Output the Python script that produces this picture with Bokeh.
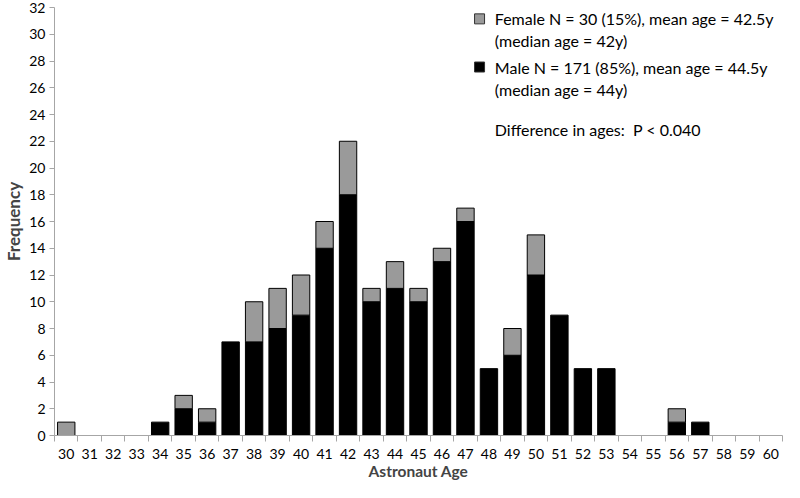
from bokeh.plotting import figure
from bokeh.models import ColumnDataSource, FixedTicker
from bokeh.core.properties import value
from bokeh.embed import file_html
from bokeh.resources import INLINE

ages = list(range(30, 61))
male = [0, 0, 0, 0, 1, 2, 1, 7, 7, 8, 9, 14, 18, 10, 11, 10, 13, 16, 5, 6, 12, 9, 5, 5, 0, 0, 1, 1, 0, 0, 0]
female = [1, 0, 0, 0, 0, 1, 1, 0, 3, 3, 3, 2, 4, 1, 2, 1, 1, 1, 0, 2, 3, 0, 0, 0, 0, 0, 1, 0, 0, 0, 0]
y_ticks = list(range(0, 33, 2))

legend_lines = ["Female N = 30 (15%), mean age = 42.5y", "(median age = 42y)",
                "Male N = 171 (85%), mean age = 44.5y", "(median age = 44y)",
                "Difference in ages:\u00a0\u00a0P < 0.040"]
legend_x = [48.25, 48.25, 48.25, 48.25, 48.25]
legend_y = [31.15, 29.5, 27.55, 25.9, 22.9]
swatch_x = [47.6, 47.6]
swatch_y = [31.15, 27.55]
swatch_col = ["#9a9a9a", "#000000"]

FONT = "Lato"

p = figure(width=784, height=482, output_backend="svg", toolbar_location=None,
           x_range=(29.5, 60.5), y_range=(0, 32),
           min_border_left=44, min_border_right=2, min_border_top=7, min_border_bottom=30)
p.outline_line_color = None
p.xgrid.visible = False
p.ygrid.visible = False

m_src = ColumnDataSource(dict(x=[a for a, m in zip(ages, male) if m > 0],
                              top=[m for m in male if m > 0]))
f_src = ColumnDataSource(dict(x=[a for a, m, f in zip(ages, male, female) if f > 0],
                              bottom=[m for m, f in zip(male, female) if f > 0],
                              top=[m + f for m, f in zip(male, female) if f > 0]))
p.vbar(x="x", top="top", bottom=0, width=0.74, source=m_src,
       fill_color="#000000", line_color="#000000", line_width=1)
p.vbar(x="x", top="top", bottom="bottom", width=0.74, source=f_src,
       fill_color="#9a9a9a", line_color="#000000", line_width=1)

p.scatter(x=swatch_x, y=swatch_y, marker="square", size=10,
          fill_color=swatch_col, line_color="#333333", line_width=1)
p.text(x=legend_x, y=legend_y, text=legend_lines, text_font=value(FONT),
       text_font_size="16px", text_baseline="middle", text_color="#000000")

axis_col = "#a6a6a6"
xa = p.xaxis[0]
xa.ticker = FixedTicker(ticks=ages, minor_ticks=[a - 0.5 for a in ages] + [60.5])
xa.major_tick_line_color = None
xa.minor_tick_out = 6
xa.minor_tick_in = 0
xa.minor_tick_line_color = axis_col
xa.axis_line_color = axis_col
xa.major_label_text_font = FONT
xa.major_label_text_font_size = "14px"
xa.major_label_text_color = "#000000"
xa.major_label_standoff = 7
xa.axis_label = "Astronaut Age"
xa.axis_label_text_font = FONT
xa.axis_label_text_font_style = "bold"
xa.axis_label_text_font_size = "15.5px"
xa.axis_label_standoff = 0

ya = p.yaxis[0]
ya.ticker = FixedTicker(ticks=y_ticks)
ya.major_tick_out = 5
ya.major_tick_in = 0
ya.minor_tick_line_color = None
ya.major_tick_line_color = axis_col
ya.axis_line_color = axis_col
ya.major_label_text_font = FONT
ya.major_label_text_font_size = "14px"
ya.major_label_text_color = "#000000"
ya.major_label_standoff = 4
ya.axis_label = "Frequency"
ya.axis_label_text_font = FONT
ya.axis_label_text_font_style = "bold"
ya.axis_label_text_font_size = "17px"
ya.axis_label_standoff = 2

open("out.html", "w").write(file_html(p, INLINE))
